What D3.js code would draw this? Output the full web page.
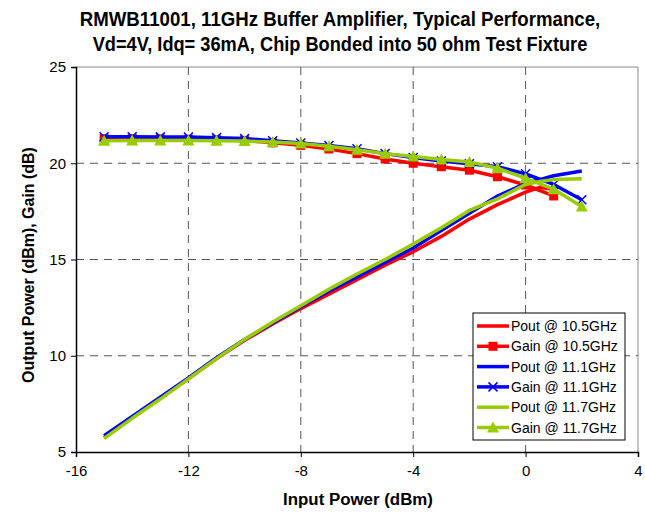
<!DOCTYPE html>
<html><head><meta charset="utf-8">
<script src="https://cdn.jsdelivr.net/npm/d3@7"></script>
<style>
body{margin:0;background:#fff;}
svg{display:block;}
</style></head>
<body>
<svg id="chart" width="645" height="513"></svg>
<script>
const titleLines = ["RMWB11001, 11GHz Buffer Amplifier, Typical Performance,", "Vd=4V, Idq= 36mA, Chip Bonded into 50 ohm Test Fixture"];
const xTicks = [-16, -12, -8, -4, 0, 4];
const yTicks = [5, 10, 15, 20, 25];

const gainX = [-15,-14,-13,-12,-11,-10,-9,-8,-7,-6,-5,-4,-3,-2,-1,0,1,2];
const gain105 = [21.28,21.28,21.27,21.25,21.22,21.18,21.06,20.93,20.74,20.5,20.22,20.0,19.82,19.64,19.3,18.87,18.3];
const gain111 = [21.38,21.38,21.37,21.36,21.33,21.28,21.17,21.05,20.92,20.75,20.5,20.3,20.12,19.97,19.82,19.45,18.9,18.1];
const gain117 = [21.17,21.18,21.18,21.18,21.17,21.15,21.1,21.02,20.88,20.7,20.5,20.35,20.2,20.07,19.74,19.22,18.65,17.75];

const poutX = [-15,-14,-13,-12,-11,-10,-9,-8,-7,-6,-5,-4,-3,-2,-1,0,0.5,1,2];
const pout105 = [5.75,6.8,7.8,8.8,9.85,10.8,11.65,12.45,13.2,13.95,14.7,15.4,16.2,17.1,17.85,18.5,18.75,18.65];
const pout111 = [5.85,6.85,7.85,8.85,9.9,10.85,11.7,12.55,13.35,14.1,14.85,15.6,16.5,17.4,18.3,18.95,19.15,19.35,19.6];
const pout117 = [5.7,6.75,7.75,8.8,9.85,10.85,11.75,12.6,13.45,14.25,15.0,15.8,16.65,17.55,18.15,18.9,19.05,19.15,19.2];

const series = [
  {name:"Pout @ 10.5GHz", xs:poutX, ys:pout105, color:"#ff0000", marker:null},
  {name:"Gain @ 10.5GHz", xs:gainX, ys:gain105, color:"#ff0000", marker:"square"},
  {name:"Pout @ 11.1GHz", xs:poutX, ys:pout111, color:"#0000ff", marker:null},
  {name:"Gain @ 11.1GHz", xs:gainX, ys:gain111, color:"#0000ff", marker:"x"},
  {name:"Pout @ 11.7GHz", xs:poutX, ys:pout117, color:"#99cc00", marker:null},
  {name:"Gain @ 11.7GHz", xs:gainX, ys:gain117, color:"#99cc00", marker:"triangle"}
];

const svg = d3.select("#chart");
const L = 76, R = 638, T = 67, B = 452;
const x = d3.scaleLinear().domain([-16, 4]).range([L, R]);
const y = d3.scaleLinear().domain([5, 25]).range([B, T]);
const boldFont = "'Liberation Sans',Arial,sans-serif";
const axFont = "'Liberation Sans',Arial,sans-serif";

// condensed bold text: draw at natural width then scale horizontally to target width
function condensedText(cx, cy, rot, size, width, str){
  const g = svg.append("g");
  const t = g.append("text").attr("x",0).attr("y",0).attr("text-anchor","middle")
    .style("font-family",boldFont).style("font-weight","bold").style("font-size",size+"px").attr("fill","#000").text(str);
  const w = t.node().getComputedTextLength();
  const s = Math.min(1, width / w);
  g.attr("transform",`translate(${cx},${cy}) rotate(${rot}) scale(${s},1)`);
}
condensedText(340, 26, 0, 20.5, 521, titleLines[0]);
condensedText(340, 51, 0, 20.5, 495, titleLines[1]);

// plot border (top/right)
svg.append("line").attr("x1",L).attr("x2",R).attr("y1",T).attr("y2",T).attr("stroke","#888").attr("stroke-width",1);
svg.append("line").attr("x1",R).attr("x2",R).attr("y1",T).attr("y2",B).attr("stroke","#888").attr("stroke-width",1);

// gridlines
const grid = svg.append("g");
grid.selectAll("line.gy").data(yTicks.filter(v=>v>5 && v<25)).join("line")
  .attr("x1",L).attr("x2",R).attr("y1",d=>y(d)).attr("y2",d=>y(d))
  .attr("stroke","#555").attr("stroke-width",1).attr("stroke-dasharray","8,6");
grid.selectAll("line.gx").data(xTicks.filter(v=>v>-16 && v<4)).join("line")
  .attr("y1",T).attr("y2",B).attr("x1",d=>x(d)).attr("x2",d=>x(d))
  .attr("stroke","#555").attr("stroke-width",1).attr("stroke-dasharray","8,6");

// axes
const xAxis = svg.append("g").attr("transform",`translate(0,${B})`)
  .call(d3.axisBottom(x).tickValues(xTicks).tickSize(5).tickPadding(8).tickFormat(d=>String(d)));
const yAxis = svg.append("g").attr("transform",`translate(${L},0)`)
  .call(d3.axisLeft(y).tickValues(yTicks).tickSize(5).tickPadding(5).tickFormat(d=>String(d)));
[xAxis,yAxis].forEach(a=>{
  a.select(".domain").attr("stroke","#000").attr("stroke-width",1.5);
  a.selectAll(".tick line").attr("stroke","#000");
  a.selectAll(".tick text").style("font-family",axFont).style("font-size","15px").attr("fill","#000");
});

// axis titles
condensedText(358, 505, 0, 17, 150, "Input Power (dBm)");
condensedText(34, 265, -90, 17, 236, "Output Power (dBm), Gain (dB)");

// series
const plot = svg.append("g");
function drawMarker(g, type, color, cx, cy){
  if(type==="square"){
    g.append("rect").attr("x",cx-4.5).attr("y",cy-4.5).attr("width",9).attr("height",9).attr("fill",color);
  } else if(type==="x"){
    g.append("path").attr("d",`M${cx-4.5},${cy-4.5}L${cx+4.5},${cy+4.5}M${cx-4.5},${cy+4.5}L${cx+4.5},${cy-4.5}`)
      .attr("stroke",color).attr("stroke-width",1.5);
  } else if(type==="triangle"){
    g.append("path").attr("d",`M${cx},${cy-6}L${cx+6},${cy+5}L${cx-6},${cy+5}Z`).attr("fill",color);
  }
}
const line = d3.line().x(d=>x(d[0])).y(d=>y(d[1]));
series.forEach(s=>{
  const pts = s.ys.map((v,i)=>[s.xs[i], v]);
  const g = plot.append("g");
  g.append("path").attr("d",line(pts)).attr("fill","none").attr("stroke",s.color).attr("stroke-width",3.5).attr("stroke-linejoin","round");
  if(s.marker) pts.forEach(p=>drawMarker(g, s.marker, s.color, x(p[0]), y(p[1])));
});

// legend
const lg = svg.append("g").attr("transform","translate(473,313)");
lg.append("rect").attr("x",0).attr("y",0).attr("width",152).attr("height",127).attr("fill","#fff").attr("stroke","#000").attr("stroke-width",1);
series.forEach((s,i)=>{
  const cy = 13 + i*20.3;
  const g = lg.append("g");
  g.append("line").attr("x1",4).attr("x2",36).attr("y1",cy).attr("y2",cy).attr("stroke",s.color).attr("stroke-width",3.5);
  if(s.marker) drawMarker(g, s.marker, s.color, 20, cy);
  g.append("text").attr("x",38).attr("y",cy+5).style("font-family",axFont).style("font-size","14px").attr("fill","#000").text(s.name);
});
</script>
</body></html>
